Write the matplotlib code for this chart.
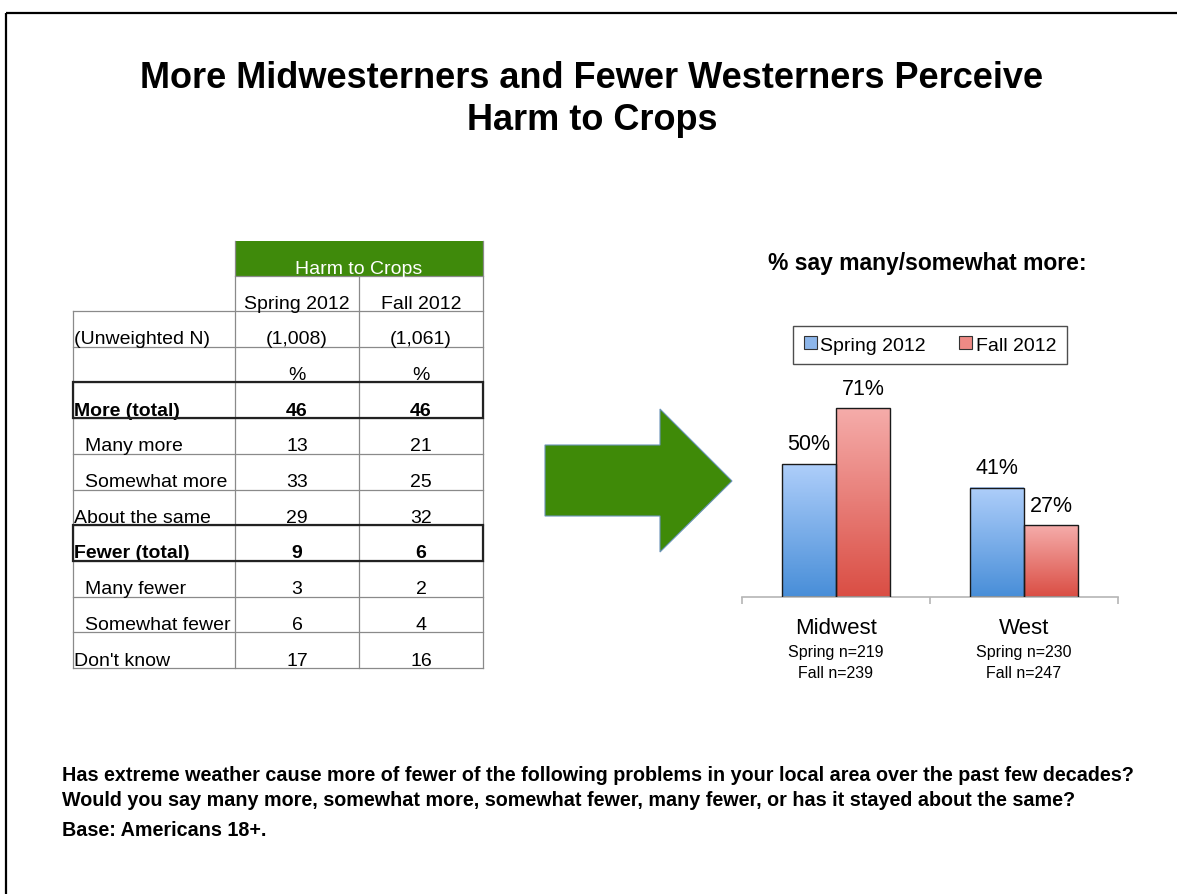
import matplotlib
matplotlib.use("Agg")
import matplotlib.pyplot as plt
import matplotlib.transforms as mtransforms
from matplotlib.patches import Polygon, Rectangle, Patch
import numpy as np

plt.rcParams['font.family'] = ['Liberation Sans', 'DejaVu Sans']

# ---------------- data ----------------
title_lines = ["More Midwesterners and Fewer Westerners Perceive", "Harm to Crops"]
table_header = "Harm to Crops"
waves = ["Spring 2012", "Fall 2012"]
row_labels = ["(Unweighted N)", "", "More (total)", "Many more", "Somewhat more",
              "About the same", "Fewer (total)", "Many fewer", "Somewhat fewer", "Don't know"]
spring_col = ["(1,008)", "%", "46", "13", "33", "29", "9", "3", "6", "17"]
fall_col = ["(1,061)", "%", "46", "21", "25", "32", "6", "2", "4", "16"]
bold_rows = [2, 6]
indented_rows = [3, 4, 7, 8]

chart_title = "% say many/somewhat more:"
regions = ["Midwest", "West"]
region_n = [("Spring n=219", "Fall n=239"), ("Spring n=230", "Fall n=247")]
spring_pct = [50, 41]
fall_pct = [71, 27]

footer_lines = ["Has extreme weather cause more of fewer of the following problems in your local area over the past few decades?",
                "Would you say many more, somewhat more, somewhat fewer, many fewer, or has it stayed about the same?"]
base_text = "Base: Americans 18+."

# ---------------- figure ----------------
W, H = 1177, 895
fig = plt.figure(figsize=(W / 100, H / 100), dpi=100)
ax0 = fig.add_axes([0, 0, 1, 1])
ax0.set_xlim(0, W)
ax0.set_ylim(H, 0)
ax0.axis('off')

# slide border (left and top)
ax0.plot([6, 6], [H, 14], color='black', lw=1.6, solid_capstyle='butt')
ax0.plot([6, W], [14, 14], color='black', lw=1.6, solid_capstyle='butt')

# title
ax0.text(592, 78, title_lines[0], ha='center', va='center', fontsize=26, fontweight='bold')
ax0.text(592, 120, title_lines[1], ha='center', va='center', fontsize=26, fontweight='bold')

# ---------------- table ----------------
green = '#3f8a0b'
grid_c = '#8a8a8a'
xL, xA, xB, xR = 73, 235, 359, 483
y_top_green, y_green_bot, y_wave_bot = 242, 277, 312
n_rows = len(row_labels)
y_end = 669
row_h = (y_end - y_wave_bot) / n_rows
row_bottoms = [y_wave_bot + (i + 1) * row_h for i in range(n_rows)]

ax0.add_patch(Rectangle((xA, y_top_green), xR - xA, y_green_bot - y_top_green,
                        facecolor=green, edgecolor='none', zorder=1))
ax0.text((xA + xR) / 2, y_green_bot - 3.5, table_header, ha='center', va='baseline',
         fontsize=14, color='white', zorder=3)
ax0.text((xA + xB) / 2, y_wave_bot - 3.5, waves[0], ha='center', va='baseline', fontsize=14)
ax0.text((xB + xR) / 2, y_wave_bot - 3.5, waves[1], ha='center', va='baseline', fontsize=14)

# grid lines
ax0.plot([xA, xR], [y_green_bot, y_green_bot], color=grid_c, lw=0.9, zorder=2)
ax0.plot([xL, xR], [y_wave_bot, y_wave_bot], color=grid_c, lw=0.9, zorder=2)
for yb in row_bottoms:
    ax0.plot([xL, xR], [yb, yb], color=grid_c, lw=0.9, zorder=2)
ax0.plot([xL, xL], [y_wave_bot, y_end], color=grid_c, lw=0.9, zorder=2)
ax0.plot([xA, xA], [y_top_green, y_end], color=grid_c, lw=0.9, zorder=2)
ax0.plot([xB, xB], [y_green_bot, y_end], color=grid_c, lw=0.9, zorder=2)
ax0.plot([xR, xR], [y_top_green, y_end], color=grid_c, lw=0.9, zorder=2)

for i in range(n_rows):
    yb = row_bottoms[i]
    fw = 'bold' if i in bold_rows else 'normal'
    lx = 85 if i in indented_rows else 74.5
    ax0.text(lx, yb - 3.5, row_labels[i], ha='left', va='baseline', fontsize=14, fontweight=fw)
    ax0.text((xA + xB) / 2, yb - 3.5, spring_col[i], ha='center', va='baseline', fontsize=14, fontweight=fw)
    ax0.text((xB + xR) / 2, yb - 3.5, fall_col[i], ha='center', va='baseline', fontsize=14, fontweight=fw)
    if i in bold_rows:
        ax0.add_patch(Rectangle((xL, yb - row_h), xR - xL, row_h, facecolor='none',
                                edgecolor='#222222', lw=1.6, zorder=3))

# ---------------- arrow ----------------
arrow_pts = [(545, 446), (660, 446), (660, 410), (732, 482), (660, 553), (660, 517), (545, 517)]
ax0.add_patch(Polygon(arrow_pts, closed=True, facecolor='#3f8a08', edgecolor='#6a93b8', lw=0.8, zorder=2))

# ---------------- bar chart ----------------
ax0.text(927, 263, chart_title, ha='center', va='center', fontsize=16.5, fontweight='bold')

base_y = 598
px_per_pct = 2.66
ymax = 80
ax_left, ax_right = 742, 1118
ax = fig.add_axes([ax_left / W, (H - base_y) / H, (ax_right - ax_left) / W, px_per_pct * ymax / H])
ax.set_xlim(0, 2)
ax.set_ylim(0, ymax)
ax.patch.set_alpha(0)
for s in ['top', 'right', 'left']:
    ax.spines[s].set_visible(False)
ax.spines['bottom'].set_color('#b5b5b5')
ax.spines['bottom'].set_linewidth(1.2)
ax.set_yticks([])
ax.set_xticks([0, 1, 2])
ax.set_xticklabels([])
ax.tick_params(axis='x', direction='out', length=5, width=1.2, color='#b5b5b5')

x = np.array([0.5, 1.5])
bw = 54 / 188
blue_top, blue_bot = np.array([174, 206, 250]) / 255, np.array([72, 142, 216]) / 255
red_top, red_bot = np.array([245, 172, 170]) / 255, np.array([218, 78, 68]) / 255

def gradient_bars(bars, top_c, bot_c):
    for p in bars:
        x0, y0 = p.get_x(), p.get_y()
        w, h = p.get_width(), p.get_height()
        t = np.linspace(0, 1, 100)[:, None]
        grad = (top_c[None, :] * (1 - t) + bot_c[None, :] * t)[:, None, :]
        ax.imshow(grad, extent=[x0, x0 + w, y0, y0 + h], aspect='auto', zorder=2, origin='upper')

b1 = ax.bar(x - bw / 2, spring_pct, bw, color='#8db6ea', zorder=1)
b2 = ax.bar(x + bw / 2, fall_pct, bw, color='#ee8a85', zorder=1)
gradient_bars(b1, blue_top, blue_bot)
gradient_bars(b2, red_top, red_bot)
ax.bar(x - bw / 2, spring_pct, bw, fill=False, edgecolor='#1a1a1a', lw=1.0, zorder=3)
ax.bar(x + bw / 2, fall_pct, bw, fill=False, edgecolor='#1a1a1a', lw=1.0, zorder=3)
ax.set_xlim(0, 2)
ax.set_ylim(0, ymax)

for xi, v in zip(x - bw / 2, spring_pct):
    ax.annotate(f"{v}%", (xi, v), xytext=(0, 14.5), textcoords='offset points',
                ha='center', va='center', fontsize=15.5, clip_on=False)
for xi, v in zip(x + bw / 2, fall_pct):
    ax.annotate(f"{v}%", (xi, v), xytext=(0, 14.5), textcoords='offset points',
                ha='center', va='center', fontsize=15.5, clip_on=False)

trans = ax.get_xaxis_transform()
for xi, name, (n1, n2) in zip(x, regions, region_n):
    ax.text(xi, 0, name, transform=mtransforms.offset_copy(trans, fig, x=0, y=-31, units='dots'),
            ha='center', va='center', fontsize=16)
    ax.text(xi, 0, n1, transform=mtransforms.offset_copy(trans, fig, x=0, y=-55, units='dots'),
            ha='center', va='center', fontsize=11.5)
    ax.text(xi, 0, n2, transform=mtransforms.offset_copy(trans, fig, x=0, y=-75, units='dots'),
            ha='center', va='center', fontsize=11.5)

handles = [Patch(facecolor='#8db6ea', edgecolor='#333333', lw=0.8),
           Patch(facecolor='#ee8a85', edgecolor='#333333', lw=0.8)]
leg = fig.legend(handles, waves, loc='center', bbox_to_anchor=((793 + 1067) / 2 / W, 1 - 346 / H),
                 ncol=2, fontsize=14, frameon=True, fancybox=False, handlelength=0.65,
                 handleheight=0.65, handletextpad=0.2, columnspacing=1.7, borderpad=0.55,
                 borderaxespad=0)
leg.get_frame().set_edgecolor('#222222')
leg.get_frame().set_linewidth(1.0)

# ---------------- footer ----------------
ax0.text(62, 776, footer_lines[0], ha='left', va='center', fontsize=14.2, fontweight='bold')
ax0.text(62, 801, footer_lines[1], ha='left', va='center', fontsize=14.2, fontweight='bold')
ax0.text(62, 831, base_text, ha='left', va='center', fontsize=14.2, fontweight='bold')

fig.savefig("out.png", dpi=100)
